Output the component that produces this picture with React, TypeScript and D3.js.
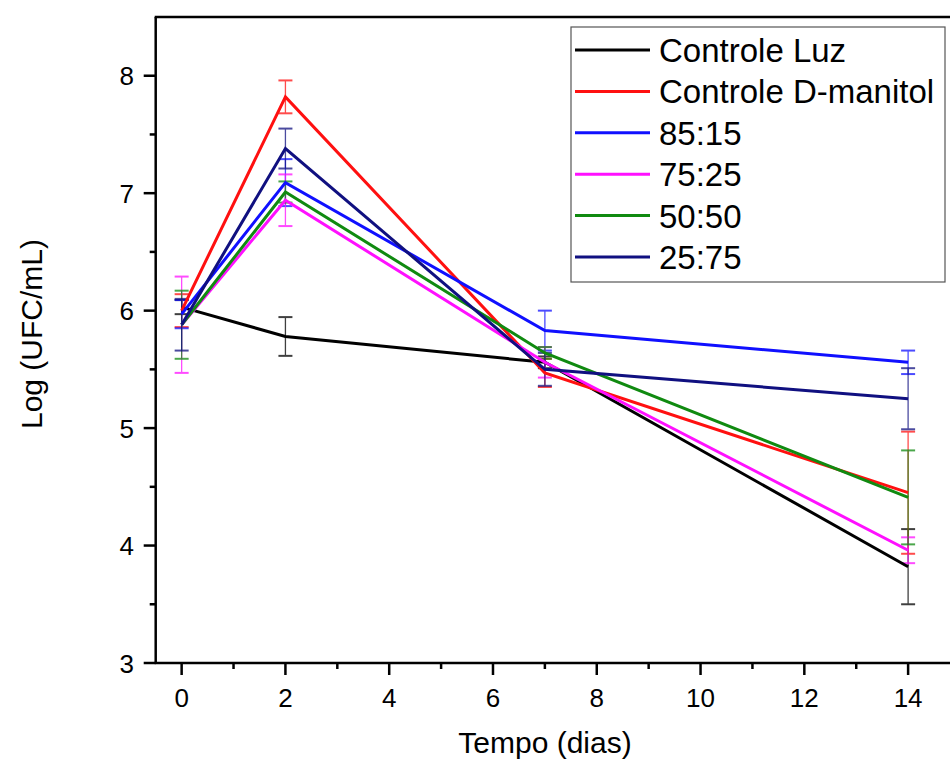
import React from 'react';
import * as d3 from 'd3';

// dias de amostragem
const days = [0, 2, 7, 14];

const seriesNames = ['Controle Luz', 'Controle D-manitol', '85:15', '75:25', '50:50', '25:75'];
const seriesColors = ['#000000', '#ff1010', '#1010ff', '#ff10ff', '#108a10', '#101080'];

// Log (UFC/mL) por serie
const controleLuz = [6.03, 5.78, 5.56, 3.82];
const controleManitol = [6.0, 7.82, 5.47, 4.45];
const s8515 = [5.97, 7.09, 5.83, 5.56];
const s7525 = [5.88, 6.94, 5.56, 3.96];
const s5050 = [5.88, 7.01, 5.64, 4.41];
const s2575 = [5.88, 7.38, 5.5, 5.25];

// desvios
const errLuz = [0.06, 0.165, 0.05, 0.32];
const errManitol = [0.14, 0.14, 0.12, 0.52];
const err8515 = [0.12, 0.2, 0.17, 0.1];
const err7525 = [0.41, 0.22, 0.13, 0.11];
const err5050 = [0.29, 0.09, 0.05, 0.4];
const err2575 = [0.22, 0.17, 0.14, 0.26];

const seriesValues = [controleLuz, controleManitol, s8515, s7525, s5050, s2575];
const seriesErrors = [errLuz, errManitol, err8515, err7525, err5050, err2575];

const xTicks = [0, 2, 4, 6, 8, 10, 12, 14];
const yTicks = [3, 4, 5, 6, 7, 8];

const W = 950;
const H = 763;
const font = 'Arial, "Liberation Sans", sans-serif';

export default function App() {
  const x = d3.scaleLinear().domain([-0.5, 15]).range([155.7, 960]);
  const y = d3.scaleLinear().domain([3, 8.5]).range([663, 17]);
  const line = d3.line<number>()
    .x((d, i) => x(days[i]))
    .y(d => y(d));

  const xMinor = d3.range(1, 15, 2);
  const yMinor = d3.range(3.5, 8.5, 1);
  const x0 = x(-0.5);
  const y0 = y(3);

  return (
    <svg width={W} height={H} style={{ position: 'absolute', left: 0, top: 0, background: '#fff' }}>
      <rect width={W} height={H} fill="#fff" />

      {/* error bars */}
      {seriesValues.map((vals, s) => (
        <g key={'e' + s} stroke={seriesColors[s]} strokeWidth={1.3} opacity={0.75}>
          {vals.map((v, i) => {
            const cx = x(days[i]);
            const e = seriesErrors[s][i];
            return (
              <g key={i}>
                <line x1={cx} x2={cx} y1={y(v + e)} y2={y(v - e)} />
                <line x1={cx - 7} x2={cx + 7} y1={y(v + e)} y2={y(v + e)} strokeWidth={2} />
                <line x1={cx - 7} x2={cx + 7} y1={y(v - e)} y2={y(v - e)} strokeWidth={2} />
              </g>
            );
          })}
        </g>
      ))}

      {/* lines */}
      {seriesValues.map((vals, s) => (
        <path key={'l' + s} d={line(vals) || ''} fill="none" stroke={seriesColors[s]} strokeWidth={3} strokeLinejoin="miter" />
      ))}

      {/* axes */}
      <g stroke="#000" strokeWidth={2.5}>
        <line x1={x0} x2={x0} y1={y(8.5)} y2={y0 + 1} />
        <line x1={x0 - 1} x2={W} y1={y0} y2={y0} />
        <line x1={x0 - 1} x2={W} y1={y(8.5)} y2={y(8.5)} />
        {xTicks.map(t => <line key={'xt' + t} x1={x(t)} x2={x(t)} y1={y0} y2={y0 + 12} />)}
        {xMinor.map(t => <line key={'xm' + t} x1={x(t)} x2={x(t)} y1={y0} y2={y0 + 6} />)}
        {yTicks.map(t => <line key={'yt' + t} x1={x0} x2={x0 - 12} y1={y(t)} y2={y(t)} />)}
        {yMinor.map(t => <line key={'ym' + t} x1={x0} x2={x0 - 6} y1={y(t)} y2={y(t)} />)}
      </g>
      <g fontFamily={font} fontSize={26} fill="#000">
        {xTicks.map(t => (
          <text key={'xl' + t} x={x(t)} y={707} textAnchor="middle">{t}</text>
        ))}
        {yTicks.map(t => (
          <text key={'yl' + t} x={134} y={y(t) + 9.5} textAnchor="end">{t}</text>
        ))}
      </g>
      <text x={545} y={753} textAnchor="middle" fontFamily={font} fontSize={30}>Tempo (dias)</text>
      <text transform={`translate(42,334) rotate(-90)`} textAnchor="middle" fontFamily={font} fontSize={30}>Log (UFC/mL)</text>

      {/* legend */}
      <rect x={571} y={27} width={374} height={255} fill="#fff" stroke="#555" strokeWidth={1.2} />
      {seriesNames.map((name, s) => {
        const ly = 50 + s * 41.4;
        return (
          <g key={'lg' + s}>
            <line x1={575} x2={650} y1={ly} y2={ly} stroke={seriesColors[s]} strokeWidth={3} />
            <text x={659} y={ly + 12} fontFamily={font} fontSize={33} fill="#000">{name}</text>
          </g>
        );
      })}
    </svg>
  );
}
